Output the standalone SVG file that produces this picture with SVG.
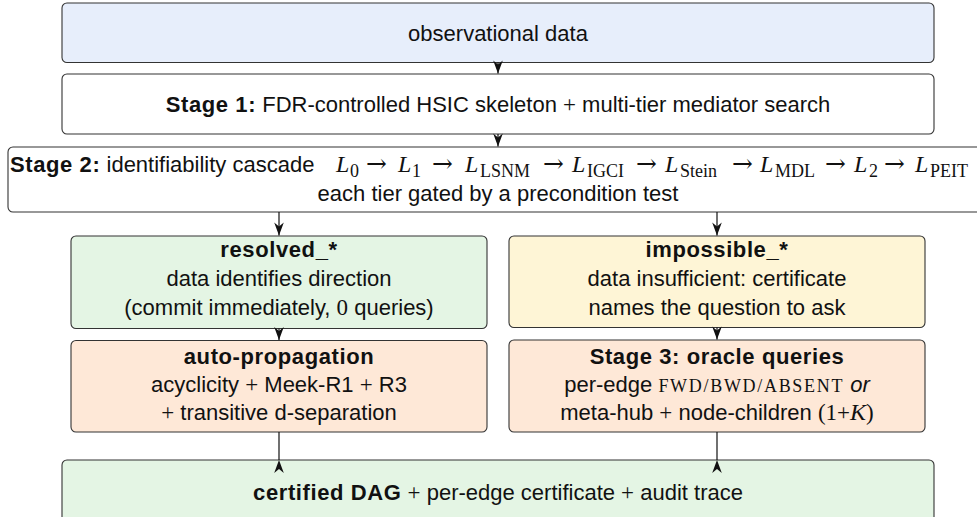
<svg xmlns="http://www.w3.org/2000/svg" width="977" height="517" viewBox="0 0 977 517">
  <style>
    .box { stroke: #333; stroke-width: 1.1; }
    .blue { fill: #e7eefb; }
    .white { fill: #ffffff; }
    .green { fill: #e4f5e4; }
    .yellow { fill: #fef5d6; }
    .orange { fill: #fee8d7; }
    text { font-family: "Liberation Sans", Arial, sans-serif; font-size: 22px; fill: #111; }
    .c { text-anchor: middle; }
    .b { font-weight: bold; letter-spacing: 0.6px; }
    .m { font-family: "Liberation Serif", "Times New Roman", serif; font-size: 23px; }
    .mi { font-family: "Liberation Serif", "Times New Roman", serif; font-style: italic; font-size: 24px; }
    .sub { font-family: "Liberation Serif", "Times New Roman", serif; font-size: 18px; }
    .arr { font-family: "DejaVu Serif", "Liberation Serif", serif; font-size: 25px; }
    .sc { font-family: "Liberation Serif", "Times New Roman", serif; font-size: 18px; }
    .it { font-style: italic; }
    .conn { stroke: #111; stroke-width: 1.2; fill: none; }
  </style>
  <defs>
    <marker id="tip" viewBox="-14 -6 15 12" refX="0" refY="0" markerWidth="15" markerHeight="12" markerUnits="userSpaceOnUse" orient="auto">
      <path d="M0,0 L-13,-4.8 L-9,0 L-13,4.8 Z" fill="#111"/>
    </marker>
  </defs>

  <!-- input -->
  <g id="data">
    <rect class="box blue" x="62" y="3" width="872" height="59.5" rx="5"/>
    <text class="c" x="498" y="41">observational data</text>
  </g>

  <!-- stage 1 -->
  <g id="stage1">
    <rect class="box white" x="62" y="74" width="872" height="60" rx="5"/>
    <text class="c" x="498" y="112"><tspan class="b">Stage 1:</tspan> FDR-controlled HSIC skeleton <tspan class="m">+</tspan> multi-tier mediator search</text>
  </g>

  <!-- stage 2: identifiability cascade -->
  <g id="stage2">
    <rect class="box white" x="8" y="147" width="980" height="65" rx="5"/>
    <text x="10" y="172"><tspan class="b">Stage 2:</tspan> identifiability cascade</text>
    <text y="172"><tspan class="mi" x="336">L</tspan><tspan class="sub" x="350" dy="5">0</tspan><tspan class="arr" x="366" dy="-5">→</tspan><tspan class="mi" x="398">L</tspan><tspan class="sub" x="412" dy="5">1</tspan><tspan class="arr" x="432" dy="-5">→</tspan><tspan class="mi" x="465">L</tspan><tspan class="sub" x="480" dy="5">LSNM</tspan><tspan class="arr" x="543" dy="-5">→</tspan><tspan class="mi" x="572">L</tspan><tspan class="sub" x="587" dy="5">IGCI</tspan><tspan class="arr" x="636" dy="-5">→</tspan><tspan class="mi" x="665">L</tspan><tspan class="sub" x="680" dy="5">Stein</tspan><tspan class="arr" x="732" dy="-5">→</tspan><tspan class="mi" x="760">L</tspan><tspan class="sub" x="775" dy="5">MDL</tspan><tspan class="arr" x="825" dy="-5">→</tspan><tspan class="mi" x="854">L</tspan><tspan class="sub" x="869" dy="5">2</tspan><tspan class="arr" x="884" dy="-5">→</tspan><tspan class="mi" x="915">L</tspan><tspan class="sub" x="930" dy="5">PEIT</tspan></text>
    <text class="c" x="498" y="201">each tier gated by a precondition test</text>
  </g>

  <!-- identified edges -->
  <g id="resolved">
    <rect class="box green" x="71" y="236" width="416" height="92.5" rx="5"/>
    <text class="c b" x="279" y="257">resolved_*</text>
    <text class="c" x="279" y="286">data identifies direction</text>
    <text class="c" x="279" y="315">(commit immediately, <tspan class="m">0</tspan> queries)</text>
  </g>

  <!-- non-identifiable edges -->
  <g id="impossible">
    <rect class="box yellow" x="509" y="236" width="416" height="91.5" rx="5"/>
    <text class="c b" x="717" y="257">impossible_*</text>
    <text class="c" x="717" y="286">data insufficient: certificate</text>
    <text class="c" x="717" y="315">names the question to ask</text>
  </g>

  <!-- propagation -->
  <g id="propagation">
    <rect class="box orange" x="71" y="340.5" width="416" height="91.5" rx="5"/>
    <text class="c b" x="279" y="364">auto-propagation</text>
    <text class="c" x="279" y="392">acyclicity <tspan class="m">+</tspan> Meek-R1 <tspan class="m">+</tspan> R3</text>
    <text class="c" x="279" y="420"><tspan class="m">+</tspan> transitive d-separation</text>
  </g>

  <!-- stage 3 -->
  <g id="stage3">
    <rect class="box orange" x="509" y="340" width="416" height="92" rx="5"/>
    <text class="c b" x="717" y="364">Stage 3: oracle queries</text>
    <text class="c" x="717" y="392">per-edge <tspan class="sc" textLength="184" lengthAdjust="spacing">FWD/BWD/ABSENT</tspan> <tspan class="it">or</tspan></text>
    <text class="c" x="717" y="420">meta-hub <tspan class="m">+</tspan> node-children <tspan class="m">(1+</tspan><tspan class="mi">K</tspan><tspan class="m">)</tspan></text>
  </g>

  <!-- output -->
  <g id="output">
    <rect class="box green" x="62" y="460" width="872" height="70" rx="5"/>
    <text class="c" x="498" y="500"><tspan class="b">certified DAG</tspan> <tspan class="m">+</tspan> per-edge certificate <tspan class="m">+</tspan> audit trace</text>
  </g>

  <!-- connectors -->
  <g id="connectors">
    <path class="conn" d="M498,62.5 L498,73.5" marker-end="url(#tip)"/>
    <path class="conn" d="M498,134 L498,146.5" marker-end="url(#tip)"/>
    <path class="conn" d="M279,212 L279,235.5" marker-end="url(#tip)"/>
    <path class="conn" d="M717,212 L717,235.5" marker-end="url(#tip)"/>
    <path class="conn" d="M279,328.5 L279,340" marker-end="url(#tip)"/>
    <path class="conn" d="M717,327.5 L717,339.5" marker-end="url(#tip)"/>
    <path class="conn" d="M279,460 L279,432" marker-start="url(#tip)"/>
    <path class="conn" d="M717,460 L717,432" marker-start="url(#tip)"/>
  </g>
</svg>
